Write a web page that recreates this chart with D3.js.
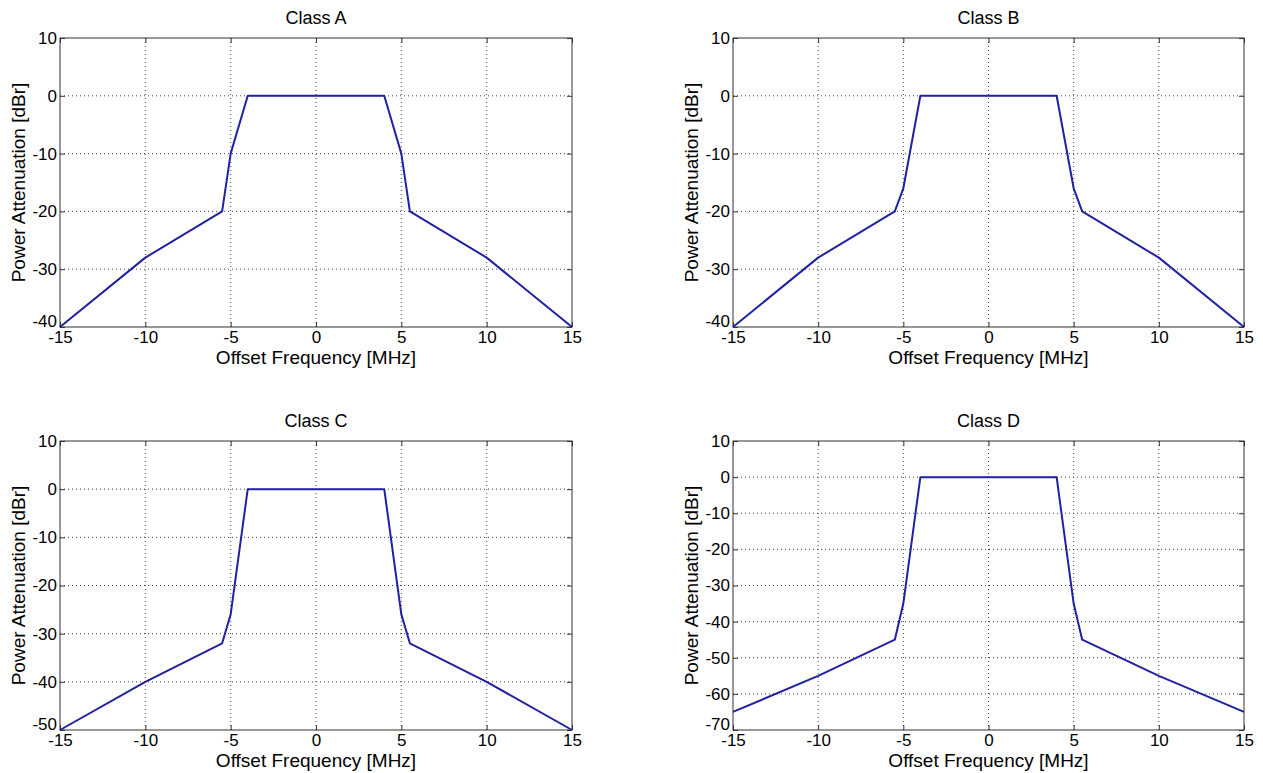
<!DOCTYPE html>
<html>
<head>
<meta charset="utf-8">
<script src="https://cdn.jsdelivr.net/npm/d3@7"></script>
<style>
  body { margin: 0; background: #fff; }
  svg { display: block; font-family: 'Liberation Sans', Arial, sans-serif; }
  .grid line { stroke: #444; stroke-dasharray: 1,3; stroke-width: 1; }
  .axis path { display: none; }
  .axis line { stroke: #333; }
  .axis text { font-size: 17px; fill: #000; font-family: 'Liberation Sans', Arial, sans-serif; }
</style>
</head>
<body>
<div id="fig"></div>
<script>
// offset frequency breakpoints [MHz], shared by all classes
const freqs = [-15, -10, -5.5, -5, -4, 4, 5, 5.5, 10, 15]

// power attenuation [dBr] per class
const classA = [-40, -28, -20, -10, 0, 0, -10, -20, -28, -40]
const classB = [-40, -28, -20, -16, 0, 0, -16, -20, -28, -40]
const classC = [-50, -40, -32, -26, 0, 0, -26, -32, -40, -50]
const classD = [-65, -55, -45, -35, 0, 0, -35, -45, -55, -65]

const titles = ['Class A', 'Class B', 'Class C', 'Class D']
const yMins = [-40, -40, -50, -70]
const yMax = 10
const xTicks = [-15, -10, -5, 0, 5, 10, 15]

const dms = { width: 1263, height: 773 }
const panels = [
  { x: 60, y: 38, w: 512, h: 289 },
  { x: 733, y: 38, w: 511, h: 289 },
  { x: 60, y: 441, w: 512, h: 289 },
  { x: 733, y: 441, w: 511, h: 289 }
]
const series = [classA, classB, classC, classD]

// plain hyphen for negatives, as matlab does
const fmt = d => String(d)

const svg = d3.select('#fig').append('svg')
    .attr('width', dms.width)
    .attr('height', dms.height)

panels.forEach((p, i) => {
  const g = svg.append('g')
      .attr('transform', `translate(${p.x},${p.y})`)

  const xScale = d3.scaleLinear()
      .domain([-15, 15])
      .range([0, p.w])
  const yScale = d3.scaleLinear()
      .domain([yMins[i], yMax])
      .range([p.h, 0])
  const yTicks = d3.range(yMins[i], yMax + 1, 10)

  // dotted grid
  const grid = g.append('g').attr('class', 'grid')
  grid.selectAll('.gx')
      .data(xTicks.slice(1, -1))
      .join('line')
      .attr('x1', d => xScale(d)).attr('x2', d => xScale(d))
      .attr('y1', 0).attr('y2', p.h)
  grid.selectAll('.gy')
      .data(yTicks.slice(1, -1))
      .join('line')
      .attr('class', 'gy')
      .attr('y1', d => yScale(d)).attr('y2', d => yScale(d))
      .attr('x1', 0).attr('x2', p.w)

  // axes with inward ticks, like matlab
  g.append('g')
      .attr('class', 'axis')
      .attr('transform', `translate(0,${p.h})`)
      .call(d3.axisBottom(xScale).tickValues(xTicks).tickFormat(fmt).tickSizeInner(-5).tickSizeOuter(0).tickPadding(4))
  g.append('g')
      .attr('class', 'axis')
      .call(d3.axisTop(xScale).tickValues(xTicks).tickSizeInner(-5).tickSizeOuter(0).tickFormat(''))
  const yAxis = g.append('g')
      .attr('class', 'axis')
      .call(d3.axisLeft(yScale).tickValues(yTicks).tickFormat(fmt).tickSizeInner(-5).tickSizeOuter(0).tickPadding(3))
  // lowest label sits a touch higher so it clears the -15
  yAxis.selectAll('.tick text')
      .filter(d => d === yMins[i])
      .attr('y', -6)
  g.append('g')
      .attr('class', 'axis')
      .attr('transform', `translate(${p.w},0)`)
      .call(d3.axisRight(yScale).tickValues(yTicks).tickSizeInner(-5).tickSizeOuter(0).tickFormat(''))

  g.append('rect')
      .attr('width', p.w)
      .attr('height', p.h)
      .attr('fill', 'none')
      .attr('stroke', '#333')
      .attr('stroke-width', 1)

  const line = d3.line()
      .x((d, j) => xScale(freqs[j]))
      .y(d => yScale(d))

  g.append('path')
      .datum(series[i])
      .attr('d', line)
      .attr('fill', 'none')
      .attr('stroke', '#2121a3')
      .attr('stroke-width', 2)
      .attr('stroke-linejoin', 'round')

  g.append('text')
      .attr('x', p.w / 2)
      .attr('y', -14)
      .attr('text-anchor', 'middle')
      .style('font-size', '18px')
      .text(titles[i])

  g.append('text')
      .attr('x', p.w / 2)
      .attr('y', p.h + 37)
      .attr('text-anchor', 'middle')
      .style('font-size', '19px')
      .text('Offset Frequency [MHz]')

  g.append('text')
      .attr('transform', `translate(-35,${p.h / 2}) rotate(-90)`)
      .attr('text-anchor', 'middle')
      .style('font-size', '19px')
      .text('Power Attenuation [dBr]')
})
</script>
</body>
</html>
